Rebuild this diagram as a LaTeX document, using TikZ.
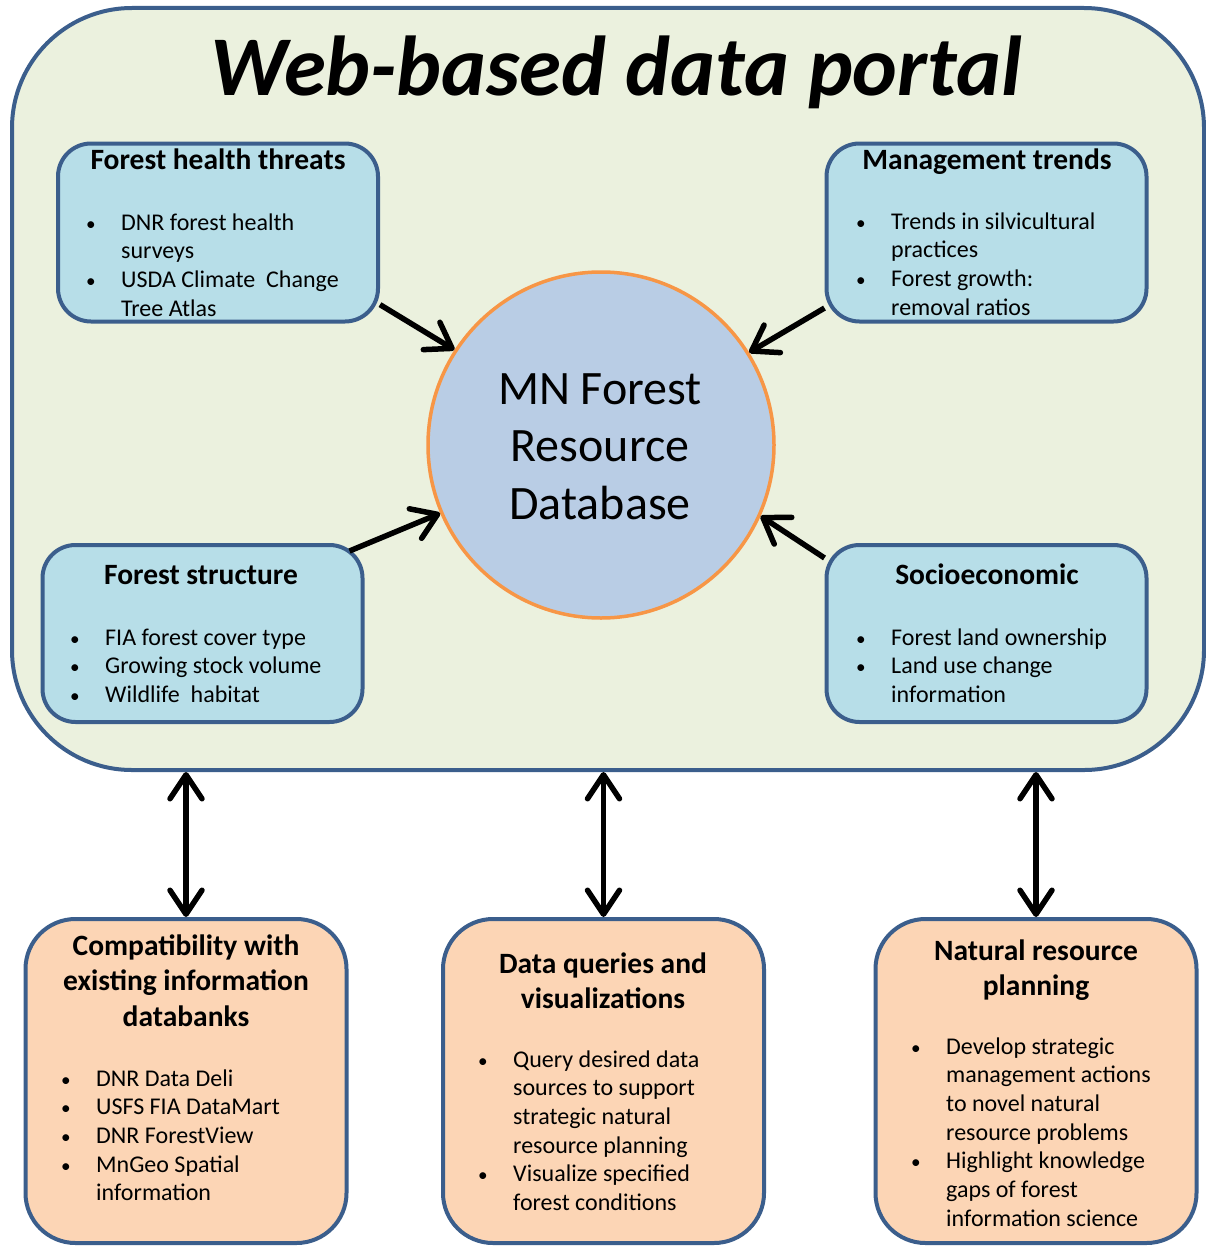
\documentclass[tikz,border=0pt]{standalone}
\usepackage{fontspec}
\setmainfont{Carlito}
\usetikzlibrary{arrows.meta,calc}
\definecolor{bordc}{HTML}{3B5E8C}
\definecolor{portalc}{HTML}{EBF1DE}
\definecolor{bluec}{HTML}{B7DEE8}
\definecolor{circc}{HTML}{B9CDE5}
\definecolor{orangec}{HTML}{F79646}
\definecolor{peachc}{HTML}{FCD5B5}
\newlength\bw \setlength\bw{36pt}
\newcommand\bitem{\makebox[\bw][l]{\hspace{1pt}\scalebox{0.8}{\textbullet}}}
\newcommand\bcont{\hspace*{\bw}}
\tikzset{
  portalbox/.style={draw=bordc, fill=portalc, line width=4pt, rounded corners=120pt,
    minimum width=1192pt, minimum height=762pt, inner sep=0pt},
  bluebox/.style={draw=bordc, fill=bluec, line width=4pt, rounded corners=33pt,
    minimum width=320pt, minimum height=178pt, inner sep=0pt},
  peachbox/.style={draw=bordc, fill=peachc, line width=4pt, rounded corners=50pt,
    minimum width=321pt, minimum height=324pt, inner sep=0pt},
  dbcircle/.style={circle, draw=orangec, fill=circc, line width=3.5pt,
    minimum size=346pt, inner sep=0pt},
  head/.style={anchor=base, inner sep=0pt, font=\fontsize{29.5}{35.5}\selectfont\bfseries},
  blist/.style={anchor=base west, inner sep=0pt, font=\fontsize{24}{28.7}\selectfont},
  arr/.style={line width=5.5pt, arrows={-Straight Barb[length=24pt,width=32pt,round]}},
  dbl/.style={line width=5.5pt, arrows={Straight Barb[length=24pt,width=32pt,round]-Straight Barb[length=24pt,width=32pt,round]}},
}
\begin{document}
\begin{tikzpicture}[x=1pt,y=-1pt]
\useasboundingbox (0,0) rectangle (1206,1247);
\fill[white] (0,0) rectangle (1206,1247);

% outer portal
\node[portalbox] (portal) at (608,389) {};
\node[anchor=base, inner sep=0pt, font=\fontsize{85}{100}\selectfont\bfseries\itshape] (title) at (616,95) {Web-based data portal};

% blue boxes
\node[bluebox] (tl) at (218,232.5) {};
\node[bluebox] (tr) at (986.5,232.5) {};
\node[bluebox, minimum height=177pt] (bl) at (202.5,633.5) {};
\node[bluebox, minimum height=177pt] (br) at (986.5,633.5) {};

\node[head] (tlh) at (218,169) {Forest health threats};
\node[blist] (tll) at (85,230) {\begin{tabular}[t]{@{}l@{}}
\bitem DNR forest health\\ \bcont surveys\\ \bitem USDA Climate\ \ Change\\ \bcont Tree Atlas\end{tabular}};

\node[head] (trh) at (987,169) {Management trends};
\node[blist] (trl) at (855,229) {\begin{tabular}[t]{@{}l@{}}
\bitem Trends in silvicultural\\ \bcont practices\\ \bitem Forest growth:\\ \bcont removal ratios\end{tabular}};

\node[head] (blh) at (201,584) {Forest structure};
\node[blist] (bll) at (69,645) {\begin{tabular}[t]{@{}l@{}}
\bitem FIA forest cover type\\ \bitem Growing stock volume\\ \bitem Wildlife\ \ habitat\end{tabular}};

\node[head] (brh) at (987,584) {Socioeconomic};
\node[blist] (brl) at (855,645) {\begin{tabular}[t]{@{}l@{}}
\bitem Forest land ownership\\ \bitem Land use change\\ \bcont information\end{tabular}};

% central database
\node[dbcircle] (db) at (601,445) {};
\node[anchor=base, inner sep=0pt, font=\fontsize{48}{57.5}\selectfont] (dbt) at (600,404)
  {\begin{tabular}[t]{@{}c@{}}MN Forest\\ Resource\\ Database\end{tabular}};

% arrows into database
\draw[arr] (tl.-24.4) -- (db.147);
\draw[arr] (tr.205) -- (db.32);
\draw[arr] ($(bl.north east)+(-15,8)$) -- (db.203);
\draw[arr] (br.155.7) -- (db.-24);

% bottom boxes
\node[peachbox] (pl) at (186,1081) {};
\node[peachbox] (pm) at (603.5,1081) {};
\node[peachbox] (pr) at (1036,1081) {};

\node[head] (plh) at (186,955) {\begin{tabular}[t]{@{}c@{}}Compatibility with\\ existing information\\ databanks\end{tabular}};
\node[blist] (pll) at (60,1086) {\begin{tabular}[t]{@{}l@{}}
\bitem DNR Data Deli\\ \bitem USFS FIA DataMart\\ \bitem DNR ForestView\\ \bitem MnGeo Spatial\\ \bcont information\end{tabular}};

\node[head] (pmh) at (603,973) {\begin{tabular}[t]{@{}c@{}}Data queries and\\ visualizations\end{tabular}};
\node[blist] (pml) at (477,1067) {\begin{tabular}[t]{@{}l@{}}
\bitem Query desired data\\ \bcont sources to support\\ \bcont strategic natural\\ \bcont resource planning\\ \bitem Visualize specified\\ \bcont forest conditions\end{tabular}};

\node[head] (prh) at (1036,960) {\begin{tabular}[t]{@{}c@{}}Natural resource\\ planning\end{tabular}};
\node[blist] (prl) at (910,1054) {\begin{tabular}[t]{@{}l@{}}
\bitem Develop strategic\\ \bcont management actions\\ \bcont to novel natural\\ \bcont resource problems\\ \bitem Highlight knowledge\\ \bcont gaps of forest\\ \bcont information science\end{tabular}};

% double arrows
\draw[dbl] (portal.south -| pl.north) -- (pl.north);
\draw[dbl] (portal.south -| pm.north) -- (pm.north);
\draw[dbl] (portal.south -| pr.north) -- (pr.north);
\end{tikzpicture}
\end{document}
